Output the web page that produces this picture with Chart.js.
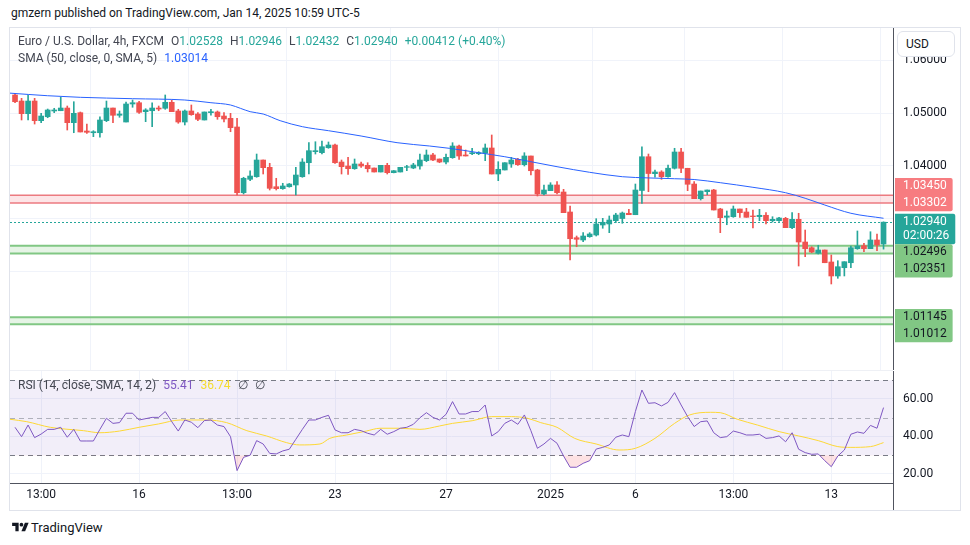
<!DOCTYPE html>
<html>
<head>
<meta charset="utf-8">
<title>EUR/USD 4h</title>
<script src="https://cdn.jsdelivr.net/npm/chart.js@4.4.1/dist/chart.umd.min.js"></script>
<style>
  body { margin: 0; width: 970px; height: 545px; background: #fff; position: relative; overflow: hidden;
         font-family: Roboto, "Liberation Sans", sans-serif; color: #131722; }
  .abs { position: absolute; white-space: pre; }
  #frame { left: 9px; top: 27px; width: 952px; height: 484px; border: 1px solid #e0e3eb; box-sizing: border-box; }
  #main { position: absolute; left: 10px; top: 28px; }
  #rsi { position: absolute; left: 10px; top: 371px; }
  #sep { left: 10px; top: 370px; width: 883px; height: 1px; background: #eef0f5; }
  .legend { font-size: 12px; color: #434651; }
  .legend .k { margin-left: 7px; }
  .up { color: #26a69a; }
  #usd { left: 897px; top: 31px; width: 58px; height: 26px; box-sizing: border-box; border: 1px solid #e0e3eb;
         border-radius: 6px; background: #fff; font-size: 12px; line-height: 24px; padding-left: 8px; color: #131722; }
</style>
</head>
<body>
<div class="abs" style="left:11px;top:6px;font-size:12px;color:#131722">gmzern published on TradingView.com, Jan 14, 2025 10:59 UTC-5</div>
<div class="abs" id="frame"></div>
<canvas id="main" width="950" height="342"></canvas>
<div class="abs" id="sep"></div>
<canvas id="rsi" width="950" height="139"></canvas>
<div class="abs" id="usd">USD</div>

<div class="abs legend" style="left:18px;top:34px"><span>Euro / U.S. Dollar, 4h, FXCM</span><span class="k">O</span><span class="up">1.02528</span><span class="k">H</span><span class="up">1.02946</span><span class="k">L</span><span class="up">1.02432</span><span class="k">C</span><span class="up">1.02940</span><span class="k up">+0.00412 (+0.40%)</span></div>
<div class="abs legend" style="left:18px;top:51px"><span>SMA (50, close, 0, SMA, 5)</span><span class="k" style="color:#2962ff">1.03014</span></div>
<div class="abs legend" style="left:18px;top:378px"><span>RSI (14, close, SMA, 14, 2)</span><span class="k" style="color:#7e57c2">55.41</span><span class="k" style="color:#f5dc2f">36.74</span><span class="k">∅</span><span class="k">∅</span></div>

<div class="abs" style="left:12px;top:520px;display:flex;align-items:center">
  <svg width="17" height="13" viewBox="0 0 36 28"><path d="M14 22H7V11H0V4h14v18z" fill="#131722"/><circle cx="20" cy="8" r="4" fill="#131722"/><path d="M28 22h-8l7.5-18h8L28 22z" fill="#131722"/></svg>
  <span style="font-size:13px;margin-left:2px;color:#131722">TradingView</span>
</div>

<script>
// EUR/USD 4h candles
const opens = [1.05340,1.05226,1.04987,1.05226,1.04855,1.04930,1.05038,1.05043,1.05094,1.04817,
  1.05006,1.04660,1.04628,1.04628,1.04855,1.05094,1.04957,1.04830,1.05170,1.05194,
  1.05025,1.05043,1.05094,1.05089,1.05202,1.05038,1.04830,1.05038,1.04981,1.04868,
  1.05006,1.05019,1.04943,1.04900,1.04736,1.03496,1.03749,1.03798,1.04113,1.03975,
  1.03609,1.03572,1.03609,1.03642,1.03798,1.04062,1.04270,1.04251,1.04345,1.04396,
  1.04075,1.04000,1.03949,1.04038,1.04013,1.03962,1.03887,1.04013,1.03874,1.03887,
  1.03975,1.03962,1.04000,1.04100,1.04208,1.04132,1.04075,1.04157,1.04377,1.04208,
  1.04232,1.04232,1.04240,1.04340,1.03849,1.03925,1.04038,1.04126,1.04025,1.04189,
  1.03925,1.03472,1.03534,1.03642,1.03509,1.03132,1.02647,1.02604,1.02666,1.02698,
  1.02887,1.02906,1.02968,1.03009,1.03108,1.03081,1.03538,1.04175,1.03855,1.03887,
  1.03798,1.03957,1.04264,1.03957,1.03660,1.03383,1.03515,1.03547,1.03189,1.03032,
  1.03043,1.03189,1.03132,1.03057,1.03045,1.03070,1.02968,1.02968,1.03013,1.02836,
  1.02994,1.02566,1.02458,1.02353,1.02415,1.02189,1.01925,1.02081,1.02175,1.02440,
  1.02496,1.02440,1.02604,1.02528];
const highs = [1.05372,1.05277,1.05340,1.05277,1.04994,1.05075,1.05089,1.05296,1.05132,1.05213,
  1.05019,1.04792,1.04666,1.04930,1.05226,1.05094,1.05038,1.05208,1.05245,1.05221,
  1.05081,1.05194,1.05132,1.05340,1.05245,1.05070,1.05057,1.05151,1.05006,1.05019,
  1.05070,1.05038,1.05006,1.04994,1.04900,1.03787,1.03911,1.04226,1.04113,1.04051,
  1.03768,1.03674,1.03670,1.03975,1.04138,1.04440,1.04458,1.04472,1.04453,1.04415,
  1.04113,1.04164,1.04132,1.04075,1.04062,1.03962,1.04013,1.04051,1.03915,1.03975,
  1.04013,1.04051,1.04226,1.04302,1.04240,1.04132,1.04226,1.04440,1.04396,1.04302,
  1.04334,1.04270,1.04415,1.04585,1.04081,1.04062,1.04164,1.04145,1.04251,1.04189,
  1.03938,1.03642,1.03685,1.03704,1.03560,1.03245,1.02679,1.02742,1.02742,1.03006,
  1.03013,1.03057,1.03108,1.03132,1.03183,1.03660,1.04364,1.04226,1.03925,1.03911,
  1.04019,1.04334,1.04334,1.03957,1.03704,1.03528,1.03547,1.03560,1.03202,1.03151,
  1.03245,1.03189,1.03202,1.03170,1.03183,1.03119,1.03043,1.03032,1.03032,1.03119,
  1.03108,1.02792,1.02477,1.02504,1.02415,1.02321,1.02213,1.02194,1.02491,1.02774,
  1.02542,1.02760,1.02717,1.02946];
const lows = [1.05194,1.04868,1.04868,1.04792,1.04817,1.04911,1.05006,1.05043,1.04679,1.04628,
  1.04642,1.04617,1.04553,1.04542,1.04836,1.04817,1.04919,1.04830,1.05108,1.04994,
  1.04836,1.04742,1.05043,1.05070,1.05025,1.04806,1.04774,1.04957,1.04855,1.04868,
  1.04957,1.04881,1.04830,1.04647,1.03453,1.03472,1.03723,1.03787,1.03849,1.03547,
  1.03547,1.03560,1.03600,1.03453,1.03787,1.03849,1.04226,1.04226,1.04334,1.04051,
  1.03849,1.03843,1.03938,1.03975,1.03887,1.03887,1.03887,1.03849,1.03870,1.03887,
  1.03911,1.03949,1.03938,1.04081,1.04100,1.04062,1.04038,1.04145,1.04126,1.04189,
  1.04213,1.04213,1.04100,1.03849,1.03723,1.03925,1.03975,1.04013,1.04000,1.03830,
  1.03434,1.03453,1.03534,1.03472,1.03119,1.02226,1.02477,1.02572,1.02655,1.02679,
  1.02825,1.02742,1.02930,1.02919,1.03081,1.03081,1.03296,1.03515,1.03787,1.03749,
  1.03787,1.03943,1.03874,1.03534,1.03383,1.03358,1.03458,1.03170,1.02742,1.02892,
  1.03032,1.03032,1.03032,1.02830,1.02968,1.02906,1.02943,1.02955,1.02836,1.02817,
  1.02113,1.02289,1.02364,1.02340,1.02175,1.01774,1.01881,1.01925,1.02081,1.02428,
  1.02383,1.02440,1.02402,1.02432];
const closes = [1.05213,1.04987,1.05226,1.04855,1.04943,1.05057,1.05057,1.05094,1.04817,1.04994,
  1.04642,1.04636,1.04647,1.04868,1.05094,1.04957,1.04981,1.05170,1.05194,1.05013,
  1.05057,1.05094,1.05075,1.05202,1.05025,1.04830,1.05038,1.04968,1.04881,1.05019,
  1.05025,1.04930,1.04887,1.04723,1.03496,1.03768,1.03811,1.04113,1.03968,1.03579,
  1.03572,1.03623,1.03660,1.03830,1.04075,1.04289,1.04289,1.04364,1.04396,1.04062,
  1.03987,1.03949,1.04038,1.04000,1.03949,1.03887,1.04013,1.03874,1.03911,1.03975,
  1.03987,1.04019,1.04113,1.04208,1.04113,1.04075,1.04164,1.04377,1.04189,1.04189,
  1.04251,1.04251,1.04340,1.03849,1.03938,1.04062,1.04113,1.04025,1.04189,1.03911,
  1.03472,1.03547,1.03642,1.03496,1.03119,1.02628,1.02617,1.02679,1.02717,1.02906,
  1.02938,1.02981,1.03075,1.03113,1.03081,1.03547,1.04175,1.03858,1.03887,1.03798,
  1.03958,1.04264,1.03957,1.03655,1.03383,1.03528,1.03547,1.03170,1.03025,1.03057,
  1.03189,1.03119,1.03032,1.03045,1.03070,1.02968,1.02994,1.03019,1.02836,1.02994,
  1.02566,1.02440,1.02377,1.02415,1.02175,1.01925,1.02100,1.02194,1.02458,1.02491,
  1.02440,1.02604,1.02509,1.02940];

// SMA(50) line, sampled along the chart (candle index, value)
const smaIdx  = [-0.8, 5, 10, 18, 26, 30, 33, 34.5, 36, 38, 40.6, 44, 48, 53, 58.5, 63.5, 66.5, 71, 75, 79, 83, 88, 93, 97, 101, 104, 108, 113, 118, 121, 124, 128, 133];
const smaVals = [1.05375, 1.05326, 1.05296, 1.05270, 1.05245, 1.05194, 1.05151, 1.05089, 1.05025, 1.04981, 1.04855, 1.04742, 1.04666, 1.04566, 1.04440, 1.04377, 1.04334, 1.04251, 1.04175, 1.04081, 1.03987, 1.03881, 1.03798, 1.03775, 1.03760, 1.03745, 1.03685, 1.03598, 1.03496, 1.03391, 1.03264, 1.03108, 1.03014];

// RSI(14) per candle
const rsiVals = [44.9,39.9,46.1,39.4,41.3,43.8,43.8,44.9,39.6,43.8,
  37.6,37.6,37.6,43.8,49.7,47.0,47.4,52.4,52.4,48.8,
  49.5,50.2,50.2,53.3,47.9,42.9,48.8,47.6,44.7,48.5,
  48.8,46.1,45.3,39.9,21.8,28.9,30.0,37.8,36.0,31.0,
  30.7,32.3,33.2,38.5,43.8,48.8,48.8,50.2,51.3,43.5,
  42.0,42.0,43.8,43.1,41.7,40.8,43.8,41.2,42.6,44.4,
  44.9,46.5,50.0,52.7,50.2,48.8,51.8,58.6,52.0,52.0,
  53.3,53.3,56.8,40.3,42.6,47.0,48.8,46.5,51.5,43.1,
  33.7,36.0,39.0,36.4,29.6,23.6,23.6,25.7,27.1,33.3,
  34.2,35.5,39.6,40.8,39.9,53.3,64.8,57.7,58.0,56.3,
  58.2,63.4,56.8,50.6,45.3,47.9,48.3,42.0,39.4,39.9,
  42.9,42.0,40.8,40.8,41.2,39.0,39.4,40.3,37.2,42.0,
  33.2,31.4,30.5,30.7,27.1,23.9,29.6,32.8,41.2,42.4,
  41.7,45.9,44.4,55.41];
// SMA(14) of RSI, sampled
const rsiSmaIdx  = [-0.8, 1.8, 5.4, 10.5, 13, 16, 19, 22, 25.3, 29.3, 32.4, 35.5, 38.5, 41.6, 43.6, 46.7, 48.2, 50.8, 53.8, 55.9, 58.9, 62, 65, 67, 70, 73, 76, 78.5, 80.5, 83, 85.7, 89, 92.5, 95, 98, 101, 103.3, 106.5, 108, 110.6, 113.7, 117, 120, 123, 126, 128, 131, 133];
const rsiSmaVals = [49.2, 47.9, 44.9, 43.1, 42.0, 42.9, 44.9, 46.7, 48.8, 48.8, 47.4, 43.1, 40.3, 36.7, 35.5, 36.0, 39.0, 40.8, 42.9, 44.4, 44.4, 43.8, 45.6, 47.0, 48.4, 50.6, 50.6, 49.7, 47.4, 44.9, 39.0, 36.0, 32.8, 33.7, 39.0, 47.0, 51.5, 52.9, 52.7, 49.2, 46.1, 42.6, 40.3, 37.8, 34.6, 34.2, 34.6, 36.74];

// time axis
const timeTickIdx    = [4, 19, 34, 49, 66, 82, 95, 110, 125];
const timeTickLabels = ['13:00', '16', '13:00', '23', '27', '2025', '6', '13:00', '13'];
const priceTicks = [1.01, 1.02, 1.03, 1.04, 1.05, 1.06];
const rsiTicks   = [20, 40, 60];

// drawn levels
const resistZone   = [1.03450, 1.03302];
const supportZones = [[1.02496, 1.02351], [1.01145, 1.01012]];
const lastPrice = 1.02940;
const countdown = '02:00:26';
const rsiUpper = 70, rsiMiddle = 50, rsiLower = 30;

// visible ranges
const xMin = -0.77, xMax = 134.45;
const priceMin = 1.001509, priceMax = 1.066038;
const rsiMin = 15.2, rsiMax = 74.93;

const UP = '#26a69a', DOWN = '#ef5350';
const FONT = 'Roboto, "Liberation Sans", sans-serif';
const AXIS_W = 67;

const candleColors = closes.map((c, i) => c >= opens[i] ? UP : DOWN);

function hLine(ctx, a, py) {
    ctx.beginPath();
    ctx.moveTo(a.left, py);
    ctx.lineTo(a.right, py);
    ctx.stroke();
}

// right axis: fixed width, no label padding eating into the pane
function fitPriceAxis(ax) {
    ax.width = AXIS_W;
    ax.paddingTop = 0;
    ax.paddingBottom = 0;
}

const levelsPlugin = {
    id: 'levels',
    beforeDatasetsDraw(chart) {
        const { ctx, chartArea: a, scales: { y } } = chart;
        ctx.save();
        // resistance zone
        let t = y.getPixelForValue(resistZone[0]), b = y.getPixelForValue(resistZone[1]);
        ctx.fillStyle = 'rgba(242,54,69,0.13)';
        ctx.fillRect(a.left, t, a.width, b - t);
        ctx.strokeStyle = '#ec7a80';
        ctx.lineWidth = 1.5;
        hLine(ctx, a, t); hLine(ctx, a, b);
        // support zones
        supportZones.forEach(z => {
            const t2 = y.getPixelForValue(z[0]), b2 = y.getPixelForValue(z[1]);
            ctx.fillStyle = 'rgba(129,199,132,0.2)';
            ctx.fillRect(a.left, t2, a.width, b2 - t2);
            ctx.strokeStyle = '#81c784';
            ctx.lineWidth = 2;
            hLine(ctx, a, t2); hLine(ctx, a, b2);
        });
        // last price line
        ctx.strokeStyle = UP;
        ctx.lineWidth = 1;
        ctx.setLineDash([2, 2]);
        hLine(ctx, a, Math.round(y.getPixelForValue(lastPrice)) + 0.5);
        ctx.restore();
    },
    afterDraw(chart) {
        const { ctx, chartArea: a, scales: { y } } = chart;
        const h = 16.7;
        const items = [
            { lines: [resistZone[0].toFixed(5)], v: resistZone[0], g: 'r' },
            { lines: [resistZone[1].toFixed(5)], v: resistZone[1], g: 'r' },
            { lines: [lastPrice.toFixed(5), countdown], v: lastPrice, g: 'c', fixed: true },
            { lines: [supportZones[0][0].toFixed(5)], v: supportZones[0][0], g: 's1' },
            { lines: [supportZones[0][1].toFixed(5)], v: supportZones[0][1], g: 's1' },
            { lines: [supportZones[1][0].toFixed(5)], v: supportZones[1][0], g: 's2' },
            { lines: [supportZones[1][1].toFixed(5)], v: supportZones[1][1], g: 's2' }
        ];
        items.forEach(it => {
            it.height = it.lines.length === 1 ? h : 30.3;
            it.top = y.getPixelForValue(it.v) - h / 2;
        });
        // push labels apart around the last price label
        const f = items.findIndex(it => it.fixed);
        for (let i = f - 1; i >= 0; i--) {
            const maxB = items[i + 1].top;
            if (items[i].top + items[i].height > maxB) items[i].top = maxB - items[i].height;
        }
        for (let i = f + 1; i < items.length; i++) {
            const minT = items[i - 1].top + items[i - 1].height;
            if (items[i].top < minT) items[i].top = minT;
        }
        const style = { r: ['#f77c80', '#ffffff'], c: [UP, '#ffffff'], s1: ['#81c784', '#131722'], s2: ['#81c784', '#131722'] };
        ctx.save();
        ctx.font = '12px ' + FONT;
        ctx.textBaseline = 'middle';
        ['r', 'c', 's1', 's2'].forEach(g => {
            const grp = items.filter(it => it.g === g);
            const top = grp[0].top, bot = grp[grp.length - 1].top + grp[grp.length - 1].height;
            let w = 0;
            grp.forEach(it => it.lines.forEach(s => { w = Math.max(w, ctx.measureText(s).width); }));
            ctx.fillStyle = style[g][0];
            ctx.beginPath();
            ctx.roundRect(a.right + 2, top, w + 14, bot - top, [0, 2, 2, 0]);
            ctx.fill();
            ctx.fillStyle = style[g][1];
            grp.forEach(it => {
                it.lines.forEach((s, k) => {
                    ctx.fillText(s, a.right + 10, it.top + h / 2 + k * 14);
                });
            });
        });
        ctx.restore();
    }
};

const rsiPlugin = {
    id: 'rsiBands',
    beforeDatasetsDraw(chart) {
        const { ctx, chartArea: a, scales: { y } } = chart;
        const t = y.getPixelForValue(rsiUpper), b = y.getPixelForValue(rsiLower), m = y.getPixelForValue(rsiMiddle);
        ctx.save();
        ctx.fillStyle = 'rgba(126,87,194,0.1)';
        ctx.fillRect(a.left, t, a.width, b - t);
        ctx.lineWidth = 1;
        ctx.setLineDash([5, 4]);
        ctx.strokeStyle = '#787b86';
        hLine(ctx, a, Math.round(t) + 0.5);
        hLine(ctx, a, Math.round(b) + 0.5);
        ctx.strokeStyle = 'rgba(120,123,134,0.55)';
        hLine(ctx, a, Math.round(m) + 0.5);
        ctx.restore();
    },
    afterDraw(chart) {
        const { ctx, chartArea: a } = chart;
        ctx.save();
        ctx.strokeStyle = '#50535e';
        ctx.lineWidth = 1;
        ctx.beginPath();
        ctx.moveTo(a.right + 0.5, a.bottom);
        ctx.lineTo(a.right + 0.5, chart.height);
        ctx.stroke();
        ctx.restore();
    }
};

const tickFont = { family: FONT, size: 12 };

new Chart(document.getElementById('main'), {
    type: 'bar',
    data: {
        datasets: [
            {
                type: 'bar',
                data: opens.map((o, i) => ({ x: i, y: [lows[i], highs[i]] })),
                backgroundColor: candleColors,
                barThickness: 1,
                grouped: false,
                order: 3
            },
            {
                type: 'bar',
                data: opens.map((o, i) => ({ x: i, y: [o, closes[i]] })),
                backgroundColor: candleColors,
                barThickness: 5,
                grouped: false,
                order: 2
            },
            {
                type: 'line',
                data: smaIdx.map((x, i) => ({ x: x, y: smaVals[i] })),
                borderColor: '#2962ff',
                borderWidth: 1,
                pointRadius: 0,
                cubicInterpolationMode: 'monotone',
                order: 1
            }
        ]
    },
    options: {
        responsive: false,
        animation: false,
        events: [],
        layout: { padding: 0 },
        plugins: { legend: { display: false }, tooltip: { enabled: false } },
        scales: {
            x: {
                type: 'linear', min: xMin, max: xMax, offset: false,
                afterBuildTicks: ax => { ax.ticks = timeTickIdx.map(v => ({ value: v })); },
                afterFit: ax => { ax.height = 0; },
                ticks: { display: false },
                grid: { color: '#f0f3fa', drawTicks: false },
                border: { display: false }
            },
            y: {
                position: 'right', min: priceMin, max: priceMax,
                afterBuildTicks: ax => { ax.ticks = priceTicks.map(v => ({ value: v })); },
                afterFit: fitPriceAxis,
                ticks: {
                    font: tickFont, color: '#131722', padding: 10,
                    callback: v => v > 1.035 ? v.toFixed(5) : ''
                },
                grid: { color: '#f0f3fa', drawTicks: false },
                border: { color: '#50535e' }
            }
        }
    },
    plugins: [levelsPlugin]
});

new Chart(document.getElementById('rsi'), {
    type: 'line',
    data: {
        datasets: [
            {
                data: rsiVals.map((v, i) => ({ x: i, y: v })),
                borderColor: '#7e57c2',
                borderWidth: 1,
                pointRadius: 0,
                tension: 0,
                fill: { value: rsiLower, above: 'rgba(0,0,0,0)', below: 'rgba(242,54,69,0.15)' },
                order: 1
            },
            {
                data: rsiSmaIdx.map((x, i) => ({ x: x, y: rsiSmaVals[i] })),
                borderColor: '#fdd835',
                borderWidth: 1,
                pointRadius: 0,
                cubicInterpolationMode: 'monotone',
                order: 2
            }
        ]
    },
    options: {
        responsive: false,
        animation: false,
        events: [],
        layout: { padding: 0 },
        plugins: { legend: { display: false }, tooltip: { enabled: false } },
        scales: {
            x: {
                type: 'linear', min: xMin, max: xMax, offset: false,
                afterBuildTicks: ax => { ax.ticks = timeTickIdx.map(v => ({ value: v })); },
                afterFit: ax => { ax.height = 27; },
                ticks: {
                    font: tickFont, color: '#131722', padding: 5, maxRotation: 0, autoSkip: false,
                    callback: v => timeTickLabels[timeTickIdx.indexOf(v)] || ''
                },
                grid: { color: '#f0f3fa', drawTicks: false },
                border: { color: '#50535e' }
            },
            y: {
                position: 'right', min: rsiMin, max: rsiMax,
                afterBuildTicks: ax => { ax.ticks = rsiTicks.map(v => ({ value: v })); },
                afterFit: fitPriceAxis,
                ticks: { font: tickFont, color: '#131722', padding: 10, callback: v => v.toFixed(2) },
                grid: { color: '#f0f3fa', drawTicks: false },
                border: { color: '#50535e' }
            }
        }
    },
    plugins: [rsiPlugin]
});
</script>
</body>
</html>
